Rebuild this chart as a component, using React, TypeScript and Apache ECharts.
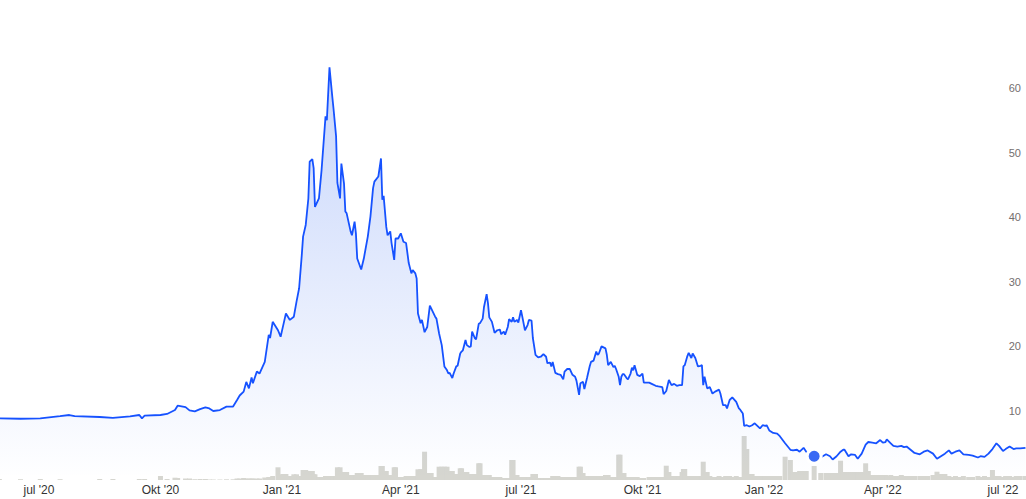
import React, { useEffect, useRef } from "react";
import * as echarts from "echarts";

const dates: string[] = [
  "2020-06-01","2020-06-17","2020-07-02","2020-07-17","2020-07-24","2020-07-28","2020-08-16","2020-08-26","2020-09-08","2020-09-15",
  "2020-09-17","2020-09-19","2020-10-01","2020-10-06","2020-10-12","2020-10-14","2020-10-20","2020-10-23","2020-10-27","2020-10-31",
  "2020-11-04","2020-11-07","2020-11-10","2020-11-15","2020-11-20","2020-11-25","2020-11-28","2020-11-30","2020-12-03","2020-12-05",
  "2020-12-07","2020-12-09","2020-12-10","2020-12-13","2020-12-15","2020-12-19","2020-12-22","2020-12-23","2020-12-25","2020-12-29",
  "2020-12-31","2021-01-02","2021-01-04","2021-01-07","2021-01-10","2021-01-12","2021-01-14","2021-01-16","2021-01-17","2021-01-19",
  "2021-01-21","2021-01-22","2021-01-24","2021-01-25","2021-01-26","2021-01-29","2021-01-31","2021-02-03","2021-02-04","2021-02-06",
  "2021-02-08","2021-02-09","2021-02-11","2021-02-12","2021-02-14","2021-02-15","2021-02-17","2021-02-18","2021-02-19","2021-02-22",
  "2021-02-23","2021-02-25","2021-02-26","2021-02-27","2021-03-02","2021-03-04","2021-03-07","2021-03-09","2021-03-11","2021-03-12",
  "2021-03-15","2021-03-17","2021-03-18","2021-03-19","2021-03-21","2021-03-22","2021-03-24","2021-03-25","2021-03-27","2021-03-28",
  "2021-03-30","2021-04-01","2021-04-03","2021-04-05","2021-04-07","2021-04-09","2021-04-10","2021-04-12","2021-04-13","2021-04-14",
  "2021-04-16","2021-04-17","2021-04-19","2021-04-21","2021-04-23","2021-04-24","2021-04-27","2021-04-28","2021-04-30","2021-05-02",
  "2021-05-04","2021-05-06","2021-05-07","2021-05-08","2021-05-10","2021-05-11","2021-05-13","2021-05-14","2021-05-16","2021-05-17",
  "2021-05-18","2021-05-20","2021-05-21","2021-05-23","2021-05-24","2021-05-25","2021-05-27","2021-05-28","2021-05-30","2021-05-31",
  "2021-06-02","2021-06-03","2021-06-05","2021-06-06","2021-06-07","2021-06-09","2021-06-11","2021-06-13","2021-06-15","2021-06-16",
  "2021-06-18","2021-06-19","2021-06-21","2021-06-22","2021-06-24","2021-06-25","2021-06-26","2021-06-28","2021-06-29","2021-07-01",
  "2021-07-02","2021-07-04","2021-07-06","2021-07-07","2021-07-09","2021-07-10","2021-07-12","2021-07-14","2021-07-16","2021-07-18",
  "2021-07-20","2021-07-21","2021-07-23","2021-07-24","2021-07-25","2021-07-27","2021-07-29","2021-07-31","2021-08-02","2021-08-03",
  "2021-08-05","2021-08-07","2021-08-09","2021-08-11","2021-08-12","2021-08-14","2021-08-15","2021-08-17","2021-08-18","2021-08-20",
  "2021-08-22","2021-08-23","2021-08-25","2021-08-27","2021-08-28","2021-08-29","2021-08-31","2021-09-03","2021-09-04","2021-09-05",
  "2021-09-07","2021-09-09","2021-09-10","2021-09-11","2021-09-13","2021-09-14","2021-09-15","2021-09-16","2021-09-17","2021-09-19",
  "2021-09-20","2021-09-22","2021-09-23","2021-09-24","2021-09-25","2021-09-27","2021-09-29","2021-10-01","2021-10-02","2021-10-06",
  "2021-10-08","2021-10-11","2021-10-13","2021-10-16","2021-10-17","2021-10-19","2021-10-21","2021-10-23","2021-10-25","2021-10-27",
  "2021-10-29","2021-10-31","2021-11-01","2021-11-02","2021-11-04","2021-11-05","2021-11-07","2021-11-08","2021-11-10","2021-11-12",
  "2021-11-14","2021-11-15","2021-11-16","2021-11-17","2021-11-19","2021-11-21","2021-11-23","2021-11-25","2021-11-28","2021-11-29",
  "2021-12-01","2021-12-03","2021-12-04","2021-12-06","2021-12-08","2021-12-11","2021-12-13","2021-12-14","2021-12-16","2021-12-17",
  "2021-12-19","2021-12-21","2021-12-23","2021-12-25","2021-12-27","2021-12-29","2021-12-31","2022-01-02","2022-01-03","2022-01-05",
  "2022-01-08","2022-01-11","2022-01-13","2022-01-17","2022-01-21","2022-01-23","2022-01-26","2022-01-28","2022-01-31","2022-02-02",
  "2022-02-08","2022-02-13","2022-02-17","2022-02-20","2022-02-22","2022-02-25","2022-02-28","2022-03-02","2022-03-03","2022-03-06",
  "2022-03-08","2022-03-11","2022-03-13","2022-03-16","2022-03-19","2022-03-21","2022-03-24","2022-03-27","2022-03-30","2022-04-01",
  "2022-04-03","2022-04-04","2022-04-07","2022-04-09","2022-04-12","2022-04-15","2022-04-17","2022-04-19","2022-04-22","2022-04-25",
  "2022-04-29","2022-05-02","2022-05-05","2022-05-09","2022-05-12","2022-05-15","2022-05-18","2022-05-21","2022-05-23","2022-05-26",
  "2022-05-29","2022-06-01","2022-06-05","2022-06-08","2022-06-12","2022-06-14","2022-06-17","2022-06-20","2022-06-23","2022-06-26",
  "2022-06-28","2022-07-01","2022-07-03","2022-07-06","2022-07-09","2022-07-11","2022-07-14","2022-07-18"
];

const closes: number[] = [
  8.85,8.8,8.85,9.2,9.38,9.2,9.07,8.92,9.18,9.38,
  8.86,9.27,9.38,9.54,10.15,10.82,10.6,10.1,9.95,10.3,
  10.57,10.4,10.0,10.15,10.67,10.7,11.7,12.4,13.0,14.5,
  13.5,15.2,14.3,16.1,15.8,17.6,21.8,21.3,23.8,22.5,
  21.5,23.3,25.1,24.1,24.6,26.9,29.0,34.1,37.0,38.8,
  42.9,48.6,49.0,47.6,41.6,42.9,47.3,55.6,55.0,63.2,
  58.9,56.9,52.5,45.3,42.9,48.3,45.2,40.9,40.6,37.8,
  37.2,39.3,37.5,33.6,31.9,33.6,37.0,40.1,44.5,45.5,
  46.3,49.1,42.7,43.3,38.5,37.2,37.8,36.0,33.4,36.7,
  36.7,37.5,36.2,36.0,32.9,31.3,31.8,31.3,30.5,25.1,
  23.6,24.1,22.2,23.0,26.3,25.9,24.6,24.3,22.0,20.2,
  16.9,16.3,15.8,15.9,15.1,15.8,16.9,17.0,18.9,19.2,
  19.4,21.0,20.2,19.9,20.0,22.3,21.3,21.1,23.5,23.6,
  24.3,26.1,28.1,26.7,24.5,23.8,22.1,22.5,22.6,21.9,
  22.3,21.8,23.0,24.2,23.8,24.5,23.8,24.1,23.7,25.6,
  24.6,22.5,23.3,24.1,24.0,21.3,18.7,18.3,18.4,18.8,
  18.4,17.4,17.5,16.9,17.6,15.9,15.7,15.6,14.9,16.1,
  16.5,16.5,15.6,15.3,14.7,12.5,14.3,14.5,13.4,15.1,
  16.9,17.6,17.8,19.2,18.7,18.9,20.0,19.7,18.7,17.1,
  17.6,16.8,17.0,16.5,15.3,14.0,15.3,15.7,15.7,15.1,
  14.9,15.8,16.7,16.3,17.1,15.6,15.4,15.8,14.4,14.4,
  14.2,13.9,13.8,13.7,12.6,13.1,14.8,14.0,14.2,13.9,
  14.0,14.0,16.9,17.1,18.5,19.0,18.2,18.9,18.2,16.9,
  17.0,17.1,14.0,15.3,13.5,13.7,12.7,13.0,13.3,12.7,
  10.9,10.9,10.4,11.7,12.1,11.4,10.4,10.2,9.6,7.7,
  7.8,7.6,7.8,8.1,7.7,7.3,7.8,7.7,7.8,7.0,
  6.6,6.5,6.1,5.0,4.0,3.9,4.0,3.7,4.3,3.7,
  3.0,2.8,3.3,3.0,2.5,3.0,3.7,4.0,4.0,3.0,
  3.3,3.2,2.6,3.4,4.8,5.2,5.1,5.0,5.5,5.1,
  5.2,5.6,5.0,4.6,4.5,4.6,4.4,4.5,4.0,3.5,
  3.3,3.7,3.9,3.4,2.6,3.0,3.4,3.9,3.4,3.7,
  3.9,3.3,3.2,3.1,2.8,3.0,2.9,3.4,4.1,5.0,
  4.6,3.8,4.1,4.5,4.1,4.2,4.2,4.3
];

const volumes: number[] = [
  1,0.8,1,0.8,0,0,1,1,0,1,
  0,1,4,1,2.3,2,1.5,1.5,0.8,1,
  1,0.5,0.5,0.5,0.7,0.7,1.5,1.5,2,1.5,
  1.5,1.5,1.5,1.5,1.5,2.5,3,2.5,4,12.7,
  5.7,6,6,4,5.7,5.7,4,4,10,10,
  9,9,9,5.7,5.7,3,3,4,4,4,
  4,4,4,12.7,12.7,8,8,8,8,5,
  5,5,5,7,7,5,5,5,5,5,
  5,14,14,9,9,5,5,5,12.7,12.7,
  3,3,3,4,4,4,4,4,4,10.7,
  10.7,10.7,28.3,7,7,7,3,3,13.3,13.3,
  13.3,13.3,9,9,9,6,6,6,11.7,11.7,
  8,8,8,6,6,6,6,6,16.7,16.7,
  5,5,5,5,5,3,3,3,3,2,
  2,2,2,2,20,20,5,5,3,3,
  3,3,3,3,3,6,6,2,2,2,
  2,2,2,2,4,4,4,3,3,3,
  3,3,3,3,3,13.3,13.3,7,4,4,
  4,4,4,4,4,4,4,5,5,5,
  3,3,3,3,25.3,25.3,7,7,7,3,
  3,3,3,3,3,3,2,2,2,3,
  3,3,3,3,3,14.3,8,4,4,4,
  4,8,11,11,4,4,4,4,4,4,
  4,4,18.3,8,8,4,3,3,4,3,
  3,4,3,4,3,4,3,3,3,44,
  31,6,6,4,4,4,4,4,4,4,
  4,4,4,23.3,20,8,8,9,9,9,
  14,7,7,7,7,7,19.3,8,8,8,
  8,8,8,8,16.7,9,5,5,5,5,
  5,4,5,4,4,5,4,4,4,4,
  4,4,4,5,8.3,6,6,4,3,4,
  3,4,3,3,4,3,4,3,10,4,
  4,3,4,4,3,4,4,4
];

const tickDates: string[] = [
  "2020-07-01","2020-10-01","2021-01-01","2021-04-01","2021-07-01",
  "2021-10-01","2022-01-01","2022-04-01","2022-07-01"
];
const tickLabels: string[] = [
  "jul '20","Okt '20","Jan '21","Apr '21","jul '21",
  "Okt '21","Jan '22","Apr '22","jul '22"
];

const rangeStart = "2020-06-01T12:00:00";
const rangeEnd = "2022-07-18T10:00:00";
const markerDate = "2022-02-08";
const markerValue = 3.0;

const FONT = "'Liberation Sans', Arial, Helvetica, sans-serif";

export default function App() {
  const ref = useRef<HTMLDivElement>(null);

  useEffect(() => {
    if (!ref.current) return;
    const chart = echarts.init(ref.current, null, { renderer: "svg" });
    const toTs = (s: string) =>
      new Date(s.length === 10 ? s + "T00:00:00" : s).getTime();
    const tickTs = tickDates.map(toTs);
    const minTs = toTs(rangeStart);
    const maxTs = toTs(rangeEnd);

    const priceData = dates.map((d, i) => [toTs(d), closes[i]]);
    const volData = dates.map((d, i) => [toTs(d), volumes[i]]);

    const labelFor = (v: number) => {
      let best = -1;
      let bestD = Infinity;
      tickTs.forEach((t, i) => {
        const dd = Math.abs(t - v);
        if (dd < bestD) {
          bestD = dd;
          best = i;
        }
      });
      return best >= 0 && bestD < 86400000 * 2 ? tickLabels[best] : "";
    };

    chart.setOption({
      animation: false,
      grid: [
        { left: 0, right: 0, top: 23.4, bottom: 23.4 },
        { left: 0, right: 0, bottom: 19, height: 50 },
      ],
      xAxis: [
        {
          type: "value",
          gridIndex: 0,
          min: minTs,
          max: maxTs,
          show: false,
          splitLine: { show: false },
        },
        {
          type: "value",
          gridIndex: 1,
          min: minTs,
          max: maxTs,
          axisLine: { show: false },
          axisTick: { show: false },
          splitLine: { show: false },
          axisLabel: {
            customValues: tickTs,
            color: "#333333",
            fontSize: 12,
            fontFamily: FONT,
            margin: 4,
            formatter: (v: number) => labelFor(v),
          },
        },
      ],
      yAxis: [
        {
          type: "value",
          gridIndex: 0,
          position: "right",
          min: 0,
          max: 70,
          interval: 10,
          axisLine: { show: false },
          axisTick: { show: false },
          splitLine: { show: false },
          axisLabel: {
            inside: true,
            margin: 5,
            color: "#746e6e",
            fontSize: 11,
            fontFamily: FONT,
            showMinLabel: false,
            showMaxLabel: false,
          },
        },
        {
          type: "value",
          gridIndex: 1,
          min: 0,
          max: 50,
          show: false,
          splitLine: { show: false },
        },
      ],
      series: [
        {
          type: "bar",
          xAxisIndex: 1,
          yAxisIndex: 1,
          data: volData,
          barWidth: 5,
          itemStyle: { color: "#d6d6d0" },
          silent: true,
          z: 1,
        },
        {
          type: "line",
          xAxisIndex: 0,
          yAxisIndex: 0,
          data: priceData,
          showSymbol: false,
          symbol: "none",
          lineStyle: { color: "#1652ff", width: 1.8 },
          areaStyle: {
            color: new echarts.graphic.LinearGradient(
              0, 60, 0, 480,
              [
                { offset: 0, color: "rgba(40, 95, 240, 0.38)" },
                { offset: 1, color: "rgba(40, 95, 240, 0.0)" },
              ],
              true
            ),
          },
          silent: true,
          z: 2,
        },
        {
          type: "scatter",
          xAxisIndex: 0,
          yAxisIndex: 0,
          data: [[toTs(markerDate), markerValue]],
          symbol: "circle",
          symbolSize: 14,
          itemStyle: {
            color: "#3a6af4",
            borderColor: "#ffffff",
            borderWidth: 3,
            opacity: 1,
          },
          silent: true,
          z: 3,
        },
      ],
    });

    return () => {
      chart.dispose();
    };
  }, []);

  return (
    <div
      ref={ref}
      style={{ position: "absolute", left: 0, top: 0, width: 1026, height: 499 }}
    />
  );
}
